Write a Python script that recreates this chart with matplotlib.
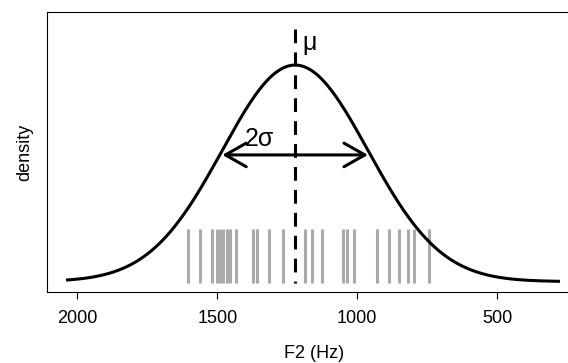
import numpy as np
import matplotlib
matplotlib.use("Agg")
import matplotlib.pyplot as plt

plt.rcParams['font.family'] = ['Liberation Sans', 'DejaVu Sans']

# Data
f2_obs = [1604, 1562, 1520, 1502, 1490, 1479, 1466, 1454, 1434, 1374, 1359,
          1315, 1264, 1187, 1163, 1127, 1050, 1038, 1012, 929, 887, 851,
          818, 798, 743]
mu = 1222
sigma = 260
curve_range = [2040, 276]
xticks = [2000, 1500, 1000, 500]

def dnorm(x, m, s):
    return np.exp(-0.5 * ((x - m) / s) ** 2) / (s * np.sqrt(2 * np.pi))

peak = dnorm(mu, mu, sigma)

fig = plt.figure(figsize=(5.68, 3.63), dpi=100)
ax = fig.add_axes([47/568, 71/363, 534.3/568, 280/363])

# rug
ax.vlines(f2_obs, -0.005 * peak, 0.241 * peak, color='#aaaaaa', lw=2.2,
          capstyle='butt', zorder=1)

# curve
xs = np.linspace(curve_range[0], curve_range[1], 500)
ax.plot(xs, dnorm(xs, mu, sigma), color='black', lw=2.2, zorder=3,
        solid_capstyle='butt')

# mean line (drawn from top so dash pattern starts at the top)
ax.plot([mu, mu], [1.166 * peak, -0.005 * peak], color='black', lw=2.2,
        linestyle=(0, (4.5, 3)), zorder=4)
ax.text(mu - 25, 1.10 * peak, 'μ', fontsize=18, ha='left', va='center')

# 2 sigma arrow
ya = 0.585 * peak
ax.annotate('', xy=(mu + sigma, ya), xytext=(mu - sigma, ya),
            arrowprops=dict(arrowstyle='<->,head_length=1.5,head_width=0.85',
                            lw=2.2, color='black', shrinkA=0, shrinkB=0,
                            mutation_scale=10), zorder=5)
ax.text(mu + 128, ya + 0.075 * peak, '2σ', fontsize=18, ha='center',
        va='center')

ax.set_xlim(2108, 200)
ax.set_ylim(-0.048 * peak, 1.245 * peak)
ax.set_xticks(xticks)
ax.set_xticklabels([str(t) for t in xticks], fontsize=13)
ax.set_yticks([])
ax.tick_params(axis='x', direction='out', length=5, width=0.8, pad=8)
ax.set_xlabel('F2 (Hz)', fontsize=13, labelpad=13)
ax.set_ylabel('density', fontsize=13, labelpad=10)
for s in ['left', 'bottom', 'top', 'right']:
    ax.spines[s].set_linewidth(0.8)
    ax.spines[s].set_color('black')

fig.savefig('out.png', dpi=100)
